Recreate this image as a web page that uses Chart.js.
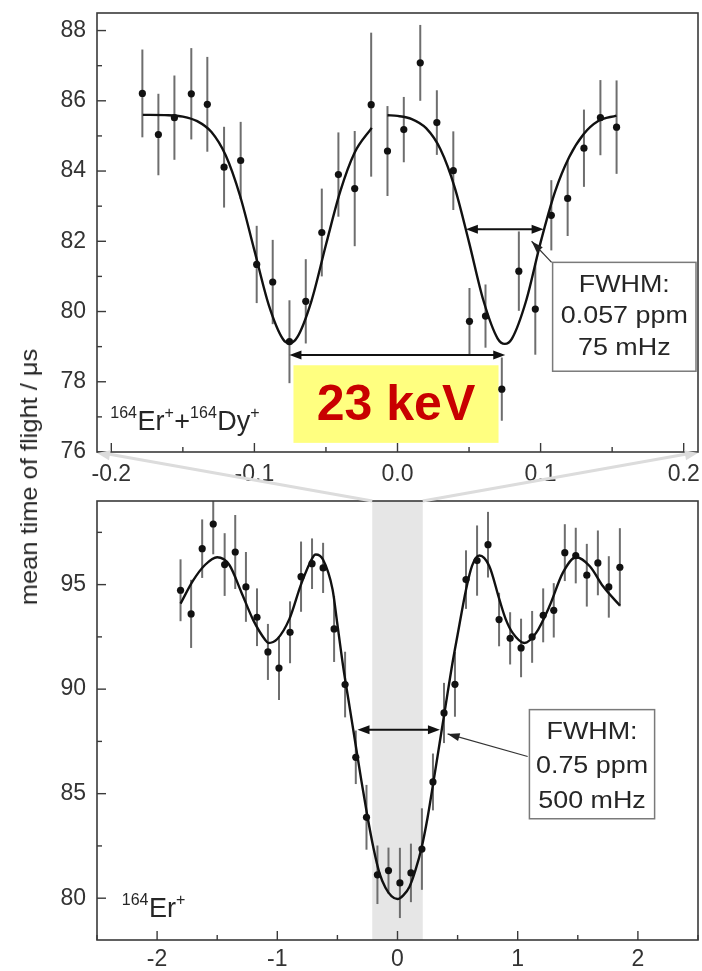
<!DOCTYPE html>
<html><head><meta charset="utf-8">
<script src="https://cdn.jsdelivr.net/npm/chart.js@4.4.1/dist/chart.umd.min.js"></script>
<style>
html,body{margin:0;padding:0;background:#fff;}
#wrap{position:relative;width:702px;height:971px;overflow:hidden;background:#fff;}
#c1{position:absolute;left:0;top:0;}
#c2{position:absolute;left:0;top:490px;}
#ov{position:absolute;left:0;top:0;pointer-events:none;}
#ytitle{position:absolute;left:29px;top:477px;transform:translate(-50%,-50%) rotate(-90deg) scaleX(1.06);
  white-space:nowrap;font:24px 'Liberation Sans',Arial,sans-serif;line-height:1;color:#262626;}
</style></head><body>
<div id="wrap">
<canvas id="c1" width="702" height="490"></canvas>
<canvas id="c2" width="702" height="481"></canvas>
<canvas id="ov" width="702" height="971"></canvas>
<div id="ytitle">mean time of flight / μs</div>
</div>
<script>
// ---------- data ----------
const topX = [-0.1783,-0.1671,-0.1559,-0.1441,-0.1329,-0.1212,-0.1096,-0.0984,-0.0872,-0.0755,-0.0641,-0.0529,-0.0413,-0.0299,-0.0184,-0.0070,0.0044,0.0159,0.0275,0.0390,0.0503,0.0615,0.0729,0.0848,0.0963,0.1075,0.1189,0.1303,0.1418,0.1531];
const topY = [86.21,85.04,85.52,86.20,85.90,84.11,84.30,81.34,80.84,79.14,80.29,82.25,83.90,83.50,85.89,84.57,85.18,87.08,85.38,84.01,79.72,79.87,77.79,81.15,80.07,82.74,83.22,84.65,85.52,85.25];
const topErr = [1.25,1.16,1.20,1.30,1.35,1.15,1.10,1.10,1.20,1.18,1.20,1.25,1.20,1.64,2.05,1.28,0.93,1.08,0.92,1.12,0.95,0.90,0.90,1.13,1.30,1.00,1.07,1.10,1.07,1.33];
const topFitLX = [-0.178,-0.16,-0.15,-0.14,-0.13,-0.12,-0.11,-0.10,-0.09,-0.08,-0.0755,-0.07,-0.06,-0.05,-0.04,-0.03,-0.018];
const topFitLY = [85.60,85.59,85.55,85.42,85.11,84.44,83.29,81.74,80.19,79.21,79.10,79.27,80.32,81.90,83.42,84.52,85.23];
const topFitRX = [-0.007,0.0,0.01,0.02,0.03,0.04,0.05,0.06,0.07,0.075,0.08,0.09,0.10,0.11,0.12,0.13,0.14,0.153];
const topFitRY = [85.59,85.57,85.48,85.22,84.62,83.53,81.97,80.32,79.23,79.08,79.23,80.32,81.97,83.40,84.40,85.05,85.42,85.58];

const botX = [-1.805,-1.717,-1.625,-1.533,-1.438,-1.35,-1.261,-1.169,-1.078,-0.986,-0.894,-0.8025,-0.711,-0.619,-0.5275,-0.436,-0.347,-0.258,-0.167,-0.075,0.02,0.1117,0.203,0.295,0.387,0.478,0.57,0.662,0.753,0.845,0.937,1.028,1.12,1.212,1.3,1.392,1.483,1.575,1.667,1.758,1.85];
const botY = [94.73,93.6,96.72,97.9,95.96,96.56,94.89,93.44,91.78,91.01,92.72,95.38,96.0,95.8,92.88,90.22,86.74,83.87,81.12,81.32,80.73,81.21,82.35,85.56,88.86,90.23,95.24,96.15,96.91,93.33,92.43,91.97,92.5,93.53,93.77,96.53,96.39,95.45,96.04,94.89,95.83];
const botErr = [1.48,1.63,1.4,1.45,1.5,1.77,1.67,1.38,1.34,1.53,1.48,1.68,1.21,1.2,1.58,1.57,1.28,1.55,1.4,1.1,1.68,1.4,1.95,1.36,1.44,1.55,1.4,1.68,1.57,1.28,1.25,1.4,1.24,1.29,1.3,1.36,1.33,1.5,1.55,1.47,1.87];
const botFitX = [-1.805,-1.70,-1.60,-1.50,-1.40,-1.30,-1.20,-1.10,-1.075,-1.00,-0.90,-0.80,-0.70,-0.68,-0.62,-0.54,-0.50,-0.45,-0.40,-0.35,-0.30,-0.25,-0.20,-0.15,-0.10,-0.05,0.00,0.05,0.10,0.15,0.20,0.25,0.30,0.35,0.40,0.45,0.50,0.57,0.62,0.681,0.764,0.848,0.90,0.958,1.056,1.153,1.264,1.375,1.486,1.60,1.71,1.85];
const botFitY = [94.09,95.2,95.95,96.31,95.95,94.65,93.3,92.35,92.21,92.4,93.35,95.05,96.35,96.44,96.2,94.76,93.1,91.0,89.2,87.4,85.6,83.91,82.4,81.2,80.5,80.1,79.96,80.15,80.55,81.35,82.4,83.85,85.6,87.4,89.2,91.0,92.6,94.76,95.9,96.39,95.88,94.28,93.35,92.69,92.21,92.69,93.96,95.56,96.31,95.88,94.92,94.0];

const topXRange = [-0.21, 0.21];
const topYRange = [76, 88.5];
const botXRange = [-2.5, 2.5];
const botYRange = [78, 99];
const topFwhmText = ['FWHM:', '0.057 ppm', '75 mHz'];
const botFwhmText = ['FWHM:', '0.75 ppm', '500 mHz'];
const shiftText = '23 keV';
const topSpecies = [['164',1],['Er',0],['+',1],['+',0],['164',1],['Dy',0],['+',1]];
const botSpecies = [['164',1],['Er',0],['+',1]];

// ---------- helpers ----------
const FONT = "'Liberation Sans', Arial, Helvetica, sans-serif";
const TXT = '#262626';
function pts(xs, ys){ return xs.map((x,i)=>({x:x, y:ys[i]})); }
function head(ctx, x1,y1,x2,y2,len,w){
  const a = Math.atan2(y2-y1,x2-x1), c=Math.cos(a), s=Math.sin(a);
  ctx.beginPath(); ctx.moveTo(x2,y2);
  ctx.lineTo(x2-len*c+w*s, y2-len*s-w*c);
  ctx.lineTo(x2-len*c-w*s, y2-len*s+w*c);
  ctx.closePath(); ctx.fill();
}
function dblArrow(ctx,x1,x2,y){
  ctx.strokeStyle='#111'; ctx.fillStyle='#111'; ctx.lineWidth=2;
  ctx.beginPath(); ctx.moveTo(x1+8,y); ctx.lineTo(x2-8,y); ctx.stroke();
  head(ctx,x2,y,x1,y,12,4.5); head(ctx,x1,y,x2,y,12,4.5);
}
function pointer(ctx,x1,y1,x2,y2){
  ctx.strokeStyle='#333'; ctx.fillStyle='#222'; ctx.lineWidth=1.2;
  ctx.beginPath(); ctx.moveTo(x1,y1); ctx.lineTo(x2,y2); ctx.stroke();
  head(ctx,x1,y1,x2,y2,12,4);
}
function stext(ctx,s,x,y,font,sx){
  ctx.save(); ctx.translate(x,y); ctx.scale(sx,1); ctx.font=font;
  ctx.textAlign='center'; ctx.textBaseline='middle'; ctx.fillStyle=TXT; ctx.fillText(s,0,0); ctx.restore();
}
function fwhmBox(ctx,xs,ys,x0,x1,y0,y1,lines,ly){
  const L=xs.getPixelForValue(x0), R=xs.getPixelForValue(x1), T=ys.getPixelForValue(y0), B=ys.getPixelForValue(y1);
  ctx.fillStyle='#fff'; ctx.fillRect(L,T,R-L,B-T);
  ctx.strokeStyle='#7a7a7a'; ctx.lineWidth=1.5; ctx.strokeRect(L,T,R-L,B-T);
  const cx=(L+R)/2;
  lines.forEach((s,i)=>stext(ctx,s,cx,ys.getPixelForValue(ly[i]),'24px '+FONT,1.12));
}
function species(ctx,parts,x,y){
  ctx.save(); ctx.fillStyle=TXT; ctx.textAlign='left'; ctx.textBaseline='alphabetic';
  let px=x;
  parts.forEach(([s,sup])=>{
    ctx.font=(sup?'16px ':'27px ')+FONT;
    ctx.fillText(s,px,sup?y-12:y); px+=ctx.measureText(s).width+(sup?0.5:0);
  });
  ctx.restore();
}

const cfg = {
  c1: {
    ex: topX, ey: topY, ee: topErr,
    before(ctx,xs,ys){
      const L=xs.getPixelForValue(-0.0727), R=xs.getPixelForValue(0.0706), T=ys.getPixelForValue(78.47), B=ys.getPixelForValue(76.26);
      ctx.fillStyle='#ffff80'; ctx.fillRect(L,T,R-L,B-T);
      ctx.save(); ctx.font='bold 50px '+FONT; ctx.fillStyle='#c80000'; ctx.textAlign='center'; ctx.textBaseline='middle';
      ctx.fillText(shiftText,(L+R)/2,(T+B)/2+2); ctx.restore();
    },
    after(ctx,xs,ys){
      dblArrow(ctx, xs.getPixelForValue(-0.0755), xs.getPixelForValue(0.0753), ys.getPixelForValue(78.76));
      dblArrow(ctx, xs.getPixelForValue(0.0478), xs.getPixelForValue(0.1021), ys.getPixelForValue(82.34));
      pointer(ctx, xs.getPixelForValue(0.1077), ys.getPixelForValue(81.4), xs.getPixelForValue(0.0937), ys.getPixelForValue(82.0));
      fwhmBox(ctx,xs,ys,0.1084,0.2086,81.4,78.3,topFwhmText,[80.75,79.85,78.95]);
      species(ctx, topSpecies, xs.getPixelForValue(-0.2007), ys.getPixelForValue(76.63));
    }
  },
  c2: {
    ex: botX, ey: botY, ee: botErr,
    before(ctx,xs,ys,ca){
      const L=xs.getPixelForValue(topXRange[0]), R=xs.getPixelForValue(topXRange[1]);
      ctx.fillStyle='#e6e6e6'; ctx.fillRect(L,ca.top,R-L,ca.bottom-ca.top);
    },
    after(ctx,xs,ys){
      dblArrow(ctx, xs.getPixelForValue(-0.333), xs.getPixelForValue(0.353), ys.getPixelForValue(88.06));
      pointer(ctx, xs.getPixelForValue(1.083), ys.getPixelForValue(86.78), xs.getPixelForValue(0.4167), ys.getPixelForValue(87.86));
      fwhmBox(ctx,xs,ys,1.0975,2.139,89.02,83.8,botFwhmText,[87.92,86.29,84.62]);
      species(ctx, botSpecies, xs.getPixelForValue(-2.294), ys.getPixelForValue(79.11));
    }
  }
};

const panelPlugin = {
  id: 'panelDeco',
  beforeDatasetsDraw(chart){
    const c=cfg[chart.canvas.id], ctx=chart.ctx, xs=chart.scales.x, ys=chart.scales.y, ca=chart.chartArea;
    ctx.save();
    c.before(ctx,xs,ys,ca);
    ctx.beginPath(); ctx.rect(ca.left,ca.top,ca.right-ca.left,ca.bottom-ca.top); ctx.clip();
    ctx.strokeStyle='#6e6e6e'; ctx.lineWidth=2;
    c.ex.forEach((x,i)=>{
      const px=xs.getPixelForValue(x);
      ctx.beginPath(); ctx.moveTo(px, ys.getPixelForValue(c.ey[i]-c.ee[i])); ctx.lineTo(px, ys.getPixelForValue(c.ey[i]+c.ee[i])); ctx.stroke();
    });
    ctx.restore();
  },
  afterDatasetsDraw(chart){
    const c=cfg[chart.canvas.id], ctx=chart.ctx;
    ctx.save(); c.after(ctx,chart.scales.x,chart.scales.y,chart.chartArea); ctx.restore();
  },
  afterDraw(chart){
    const ctx=chart.ctx, ca=chart.chartArea, xs=chart.scales.x, ys=chart.scales.y;
    ctx.save();
    ctx.strokeStyle='#3a3a3a'; ctx.lineWidth=1.6;
    ctx.strokeRect(ca.left,ca.top,ca.right-ca.left,ca.bottom-ca.top);
    ctx.lineWidth=1.4;
    xs.ticks.forEach(t=>{
      const px=xs.getPixelForValue(t.value), len=t.label!==''?9:5;
      ctx.beginPath(); ctx.moveTo(px,ca.bottom); ctx.lineTo(px,ca.bottom-len); ctx.stroke();
    });
    ys.ticks.forEach(t=>{
      const py=ys.getPixelForValue(t.value), len=t.label!==''?9:5;
      ctx.beginPath(); ctx.moveTo(ca.left,py); ctx.lineTo(ca.left+len,py); ctx.stroke();
    });
    ctx.restore();
  }
};

Chart.defaults.font.family = FONT;
Chart.defaults.color = '#333';

function isMult(v,m){ const r=v/m; return Math.abs(r-Math.round(r))<1e-6; }
function noPad(s){ s.paddingLeft=0; s.paddingRight=0; s.paddingTop=0; s.paddingBottom=0; }

function makeChart(id, pData, pFits, xr, yr, xStep, yStep, xLab, yLab, padTop, xH, xPad){
  const datasets = pFits.map(f=>({data:f, showLine:true, pointRadius:0, borderColor:'#111', borderWidth:2.4,
      cubicInterpolationMode:'monotone', fill:false, order:1}));
  datasets.push({data:pData, showLine:false, pointRadius:3.6, pointBackgroundColor:'#111', pointBorderWidth:0, order:0});
  return new Chart(document.getElementById(id), {
    type:'scatter',
    data:{datasets},
    options:{
      responsive:false, animation:false, events:[],
      layout:{padding:{top:padTop,right:4,left:0,bottom:0}},
      plugins:{legend:{display:false}, tooltip:{enabled:false}},
      scales:{
        x:{type:'linear', min:xr[0], max:xr[1], grid:{display:false}, border:{display:false},
           ticks:{stepSize:xStep, includeBounds:false, autoSkip:false, maxRotation:0, padding:xPad,
                  font:{size:23}, color:'#333', callback:xLab},
           afterFit(s){ s.height=xH; noPad(s); }},
        y:{type:'linear', min:yr[0], max:yr[1], grid:{display:false}, border:{display:false},
           ticks:{stepSize:yStep, includeBounds:false, autoSkip:false, padding:3,
                  font:{size:23}, color:'#333', callback:yLab},
           afterFit(s){ s.width=97; noPad(s); }}
      }
    },
    plugins:[panelPlugin]
  });
}

const topChart = makeChart('c1', pts(topX,topY), [pts(topFitLX,topFitLY), pts(topFitRX,topFitRY)],
  topXRange, topYRange, 0.05, 1,
  v=>isMult(v,0.1)?(Math.abs(v)<1e-9?0:v).toFixed(1):'',
  v=>(isMult(v,2))?String(Math.round(v)):'', 13, 38, 1);

const botChart = makeChart('c2', pts(botX,botY), [pts(botFitX,botFitY)],
  botXRange, botYRange, 0.5, 2.5,
  v=>isMult(v,1)?String(Math.round(v)):'',
  v=>isMult(v,5)?String(Math.round(v)):'', 11, 31, -2);

// ---------- overlay: zoom connector lines ----------
(function(){
  const ctx=document.getElementById('ov').getContext('2d');
  const tx=topChart.scales.x, ty=topChart.scales.y, bx=botChart.scales.x, by=botChart.scales.y;
  const off=490;
  const yTop=ty.getPixelForValue(topYRange[0]);
  const yBot=by.getPixelForValue(botYRange[1])+off;
  const pairs=[[bx.getPixelForValue(topXRange[0]), tx.getPixelForValue(topXRange[0])],
               [bx.getPixelForValue(topXRange[1]), tx.getPixelForValue(topXRange[1])]];
  ctx.strokeStyle='#dcdcdc'; ctx.fillStyle='#dcdcdc'; ctx.lineWidth=3;
  pairs.forEach(([xb,xt])=>{
    const a=Math.atan2(yTop-yBot, xt-xb);
    ctx.beginPath(); ctx.moveTo(xb,yBot); ctx.lineTo(xt-10*Math.cos(a), yTop-10*Math.sin(a)); ctx.stroke();
    head(ctx,xb,yBot,xt,yTop+1,13,5);
  });
})();
</script>
</body></html>
